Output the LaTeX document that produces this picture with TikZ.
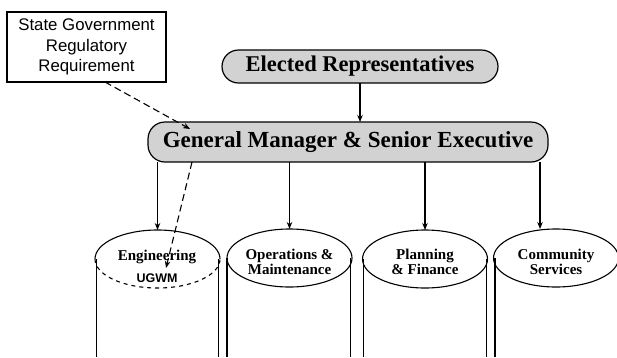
\documentclass[tikz,border=0pt]{standalone}
\usepackage{fontspec}
\setmainfont{Liberation Serif}
\newfontfamily\arialf{Liberation Sans}
\usetikzlibrary{arrows.meta,shapes.geometric}
\begin{document}
\begin{tikzpicture}[x=1pt,y=-1pt,
  lw/.style={line width=1.1pt},
  graybox/.style={draw, line width=1.2pt, fill=gray!35, inner sep=0pt, outer sep=0pt},
  cyl/.style={ellipse, minimum width=125pt, minimum height=58pt, inner sep=0pt, outer sep=0pt, line width=1.1pt},
  cyltext/.style={align=center, inner sep=0pt, font=\fontsize{15pt}{15pt}\selectfont\bfseries},
  arr/.style={-{Stealth[length=7pt,width=5.5pt]}, line width=1.1pt},
  dasharr/.style={arr, dash pattern=on 7pt off 4pt}]
\useasboundingbox (0,0) rectangle (617,357);
\coordinate (bot) at (0,357);

\node[draw, line width=1.2pt, minimum width=159pt, minimum height=70pt, inner sep=0pt, outer sep=0pt, align=center,
  font=\arialf\fontsize{16.8pt}{20.7pt}\selectfont] (sg) at (86.5,47) {State Government\\Regulatory\\Requirement};

\node[graybox, rounded corners=16.5pt, minimum width=276pt, minimum height=33pt,
  font=\fontsize{22.5pt}{26pt}\selectfont\bfseries] (er) at (360,66.5) {Elected Representatives};
\node[graybox, rounded corners=17pt, minimum width=400pt, minimum height=40pt,
  font=\fontsize{23pt}{27pt}\selectfont\bfseries] (gm) at (348,142) {General Manager \& Senior Executive};

% cylinders
\node[cyl] (eng) at (157.5,259) {};
\draw[lw] (eng.east) arc[start angle=0, end angle=180, x radius=62.5pt, y radius=29pt];
\draw[lw, dash pattern=on 4pt off 4pt] (eng.west) arc[start angle=180, end angle=360, x radius=62.5pt, y radius=29pt];
\node[cyl, draw] (ops) at (289.5,258) {};
\node[cyl, draw] (pf) at (425,259) {};
\node[cyl, draw] (comm) at (556,258) {};

\draw[lw] ([xshift=1.5pt]eng.west) -- ([xshift=1.5pt]eng.west |- bot);
\draw[lw] ([xshift=-1.5pt]eng.east) -- ([xshift=-1.5pt]eng.east |- bot);
\draw[lw] (ops.west) -- (ops.west |- bot);
\draw[lw] ([xshift=-1.5pt]ops.east) -- ([xshift=-1.5pt]ops.east |- bot);
\draw[lw] ([xshift=1pt]pf.west) -- ([xshift=1pt]pf.west |- bot);
\draw[lw] ([xshift=-1pt]pf.east) -- ([xshift=-1pt]pf.east |- bot);
\draw[lw] ([xshift=1.5pt]comm.west) -- ([xshift=1.5pt]comm.west |- bot);

\node[cyltext] (engt) at (157,257) {Engineering};
\node[inner sep=0pt, font=\arialf\bfseries\fontsize{12.5pt}{13pt}\selectfont] (ugwm) at (157,278) {UGWM};
\node[cyltext] (opst) at (289.5,262) {Operations \&\\Maintenance};
\node[cyltext] (pft) at (425,262) {Planning\\\& Finance};
\node[cyltext] (commt) at (556,262) {Community\\Services};

% connectors
\draw[arr] (er.south) -- (er.south |- gm.north);
\draw[arr] (gm.south -| eng.north) -- (eng.north);
\draw[arr] (gm.south -| ops.north) -- (ops.north);
\draw[arr] (gm.south -| pf.north) -- (pf.north);
\coordinate (ca) at ([xshift=-16pt]comm.north);
\draw[arr] (gm.south -| ca) -- (ca);

% dashed regulatory arrows
\coordinate (d1s) at ([xshift=18.5pt]sg.south);
\coordinate (d1e) at (190,129);
\draw[dasharr] (d1s) -- (d1e);
\coordinate (d2x) at (192,0);
\coordinate (d2e) at (166,268);
\draw[dasharr] (gm.south -| d2x) -- (d2e);
\end{tikzpicture}
\end{document}
